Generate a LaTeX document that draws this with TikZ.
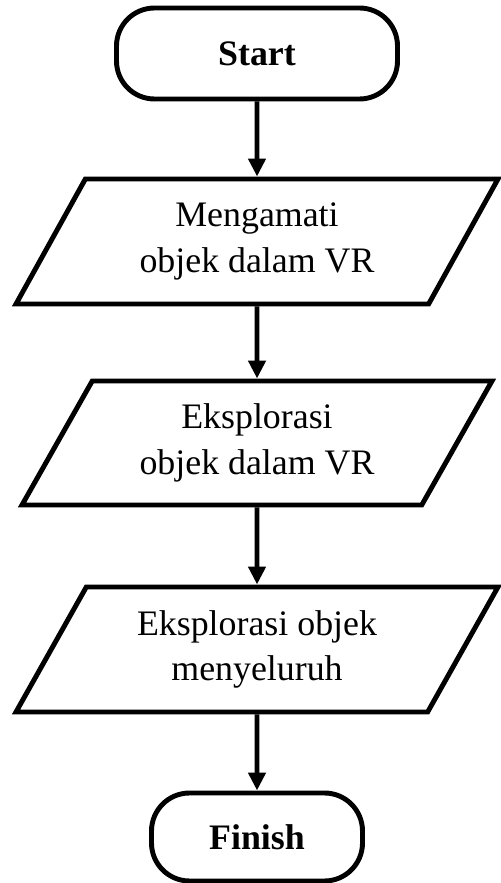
\documentclass[tikz,border=0pt]{standalone}
\usepackage{fontspec}
\setmainfont{Liberation Serif}
\usetikzlibrary{shapes.geometric,arrows.meta}

\begin{document}
\begin{tikzpicture}[
  every node/.style={font=\fontsize{20.4}{26}\selectfont, align=center},
  terminal/.style={draw, line width=2.8pt, rounded corners=0.76cm,
    minimum width=5.62cm, minimum height=1.82cm, font=\fontsize{20.4}{26}\selectfont\bfseries},
  iobox/.style={draw, line width=2.8pt, trapezium, trapezium left angle=52,
    trapezium right angle=128, trapezium stretches body,
    minimum width=9.64cm, minimum height=2.5cm},
  flow/.style={-{Triangle[length=0.36cm, width=0.34cm]}, line width=2.8pt}
]
% page size of the reference
\useasboundingbox (0,0) rectangle (10.02,17.66);
% boxes, top to bottom
\node[terminal] (start) at (5.14,16.59) {Start};
\node[iobox] (amati) at (5.14,12.83) {Mengamati\\objek dalam VR};
\node[iobox, minimum width=9.4cm, minimum height=2.48cm] (eksplor) at (5.14,8.8) {Eksplorasi\\objek dalam VR};
\node[iobox] (menyeluruh) at (5.14,4.67) {Eksplorasi objek\\menyeluruh};
\node[terminal, minimum width=4.22cm, minimum height=1.76cm] (finish) at (5.14,0.92) {Finish};
% arrows
\draw[flow] (start) -- (amati);
\draw[flow] (amati) -- (eksplor);
\draw[flow] (eksplor) -- (menyeluruh);
\draw[flow] (menyeluruh) -- (finish);
\end{tikzpicture}
\end{document}
